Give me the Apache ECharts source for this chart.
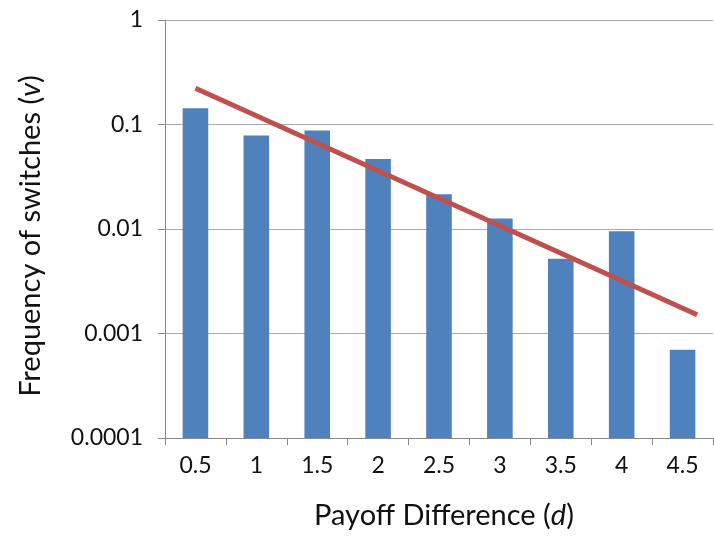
<!DOCTYPE html>
<html>
<head>
<meta charset="utf-8">
<script src="https://cdn.jsdelivr.net/npm/echarts@6/dist/echarts.min.js"></script>
<style>
    html, body { margin: 0; padding: 0; background: #fff; }
    #main { width: 714px; height: 538px; }
</style>
</head>
<body>
<div id="main"></div>
<script>
// 横轴类别（收益差 d）
var categories = ['0.5', '1', '1.5', '2', '2.5', '3', '3.5', '4', '4.5'];
// 柱状图数据：切换频率 v
var switchFreq = [0.143, 0.0784, 0.0875, 0.0468, 0.0215, 0.0126, 0.0052, 0.0095, 0.0007];
// 趋势线两端点 [d, v]
var trendPoints = [[0.5, 0.222], [4.62, 0.00151]];
// 纵轴刻度文字
var yTickLabels = ['0.0001', '0.001', '0.01', '0.1', '1'];

var font = 'Lato';
var yMin = 0.0001;
var myChart = echarts.init(document.getElementById('main'), null, { renderer: 'canvas' });

// 对数轴上柱子从最小值画起，用custom系列自己画矩形
function renderBar(params, api) {
    var idx = api.value(0);
    var top = api.coord([idx, api.value(1)]);
    var bottom = api.coord([idx, yMin]);
    var w = api.size([1, 0])[0] * 0.42;
    return {
        type: 'rect',
        shape: { x: top[0] - w / 2, y: top[1], width: w, height: bottom[1] - top[1] },
        style: { fill: '#4F81BD' }
    };
}

var barData = switchFreq.map(function(v, i) {
    return [i, v];
});

var option = {
    animation: false,
    textStyle: { fontFamily: font },
    grid: { left: 165, right: 1, top: 20, bottom: 100 },
    xAxis: [{
        type: 'category',
        data: categories,
        axisLine: { lineStyle: { color: '#888', width: 1 } },
        axisTick: { show: true, length: 7, lineStyle: { color: '#888' } },
        axisLabel: { color: '#111', fontSize: 23, margin: 16, fontFamily: font },
        name: '{n|Payoff Difference (}{i|d}{n|)}',
        nameLocation: 'middle',
        nameGap: 63,
        nameTextStyle: {
            padding: [0, 0, 0, 10],
            rich: {
                n: { fontSize: 29, color: '#111', fontFamily: font },
                i: { fontSize: 29, color: '#111', fontFamily: font, fontStyle: 'italic' }
            }
        }
    }, {
        // 趋势线用的隐藏数值轴
        type: 'value',
        min: 0.25,
        max: 4.75,
        show: false
    }],
    yAxis: {
        type: 'log',
        logBase: 10,
        min: yMin,
        max: 1,
        axisLine: { show: true, lineStyle: { color: '#888', width: 1 } },
        axisTick: { show: true, length: 7, lineStyle: { color: '#888' } },
        splitLine: { show: true, lineStyle: { color: '#aaa', width: 1 } },
        axisLabel: {
            color: '#111',
            fontSize: 23,
            margin: 22,
            fontFamily: font,
            formatter: function(value) {
                var idx = Math.round(Math.log10(value)) + 4;
                return yTickLabels[idx];
            }
        },
        name: '{n|Frequency of switches (}{i|v}{n|)}',
        nameLocation: 'middle',
        nameGap: 120,
        nameRotate: 90,
        nameTextStyle: {
            padding: [0, 14, 0, 0],
            rich: {
                n: { fontSize: 29, color: '#111', fontFamily: font },
                i: { fontSize: 29, color: '#111', fontFamily: font, fontStyle: 'italic' }
            }
        }
    },
    series: [{
        type: 'custom',
        renderItem: renderBar,
        data: barData,
        encode: { x: 0, y: 1 }
    }, {
        type: 'line',
        xAxisIndex: 1,
        data: trendPoints,
        symbol: 'none',
        lineStyle: { color: '#C0504D', width: 5 },
        z: 5
    }]
};

myChart.setOption(option);
</script>
</body>
</html>
